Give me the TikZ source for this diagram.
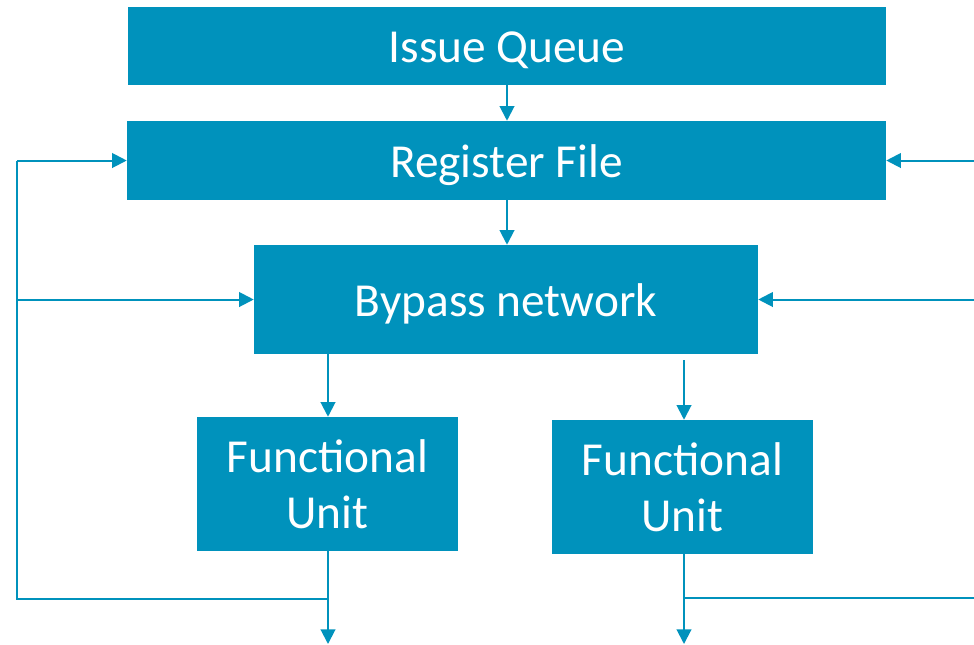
\documentclass[tikz,border=0pt]{standalone}
\usepackage{fontspec}
\setmainfont{Carlito}
\usetikzlibrary{arrows.meta}
\definecolor{boxblue}{RGB}{0,146,188}
\tikzset{
  blk/.style={fill=boxblue, draw=none, inner sep=0pt, text=white, align=center,
    font=\fontsize{35.5}{42.2}\selectfont},
  oneline/.style={text height=30pt, text depth=5pt},
  conn/.style={draw=boxblue, line width=1.5pt},
  arr/.style={conn, -{Triangle[length=11pt,width=11pt]}}
}
\begin{document}
\begin{tikzpicture}[x=0.75pt,y=-0.75pt]
\useasboundingbox (0,0) rectangle (974,644);
\node[blk, oneline, minimum width=568.5pt, minimum height=58.5pt] (iq) at (507,46) {Issue Queue};
\node[blk, oneline, minimum width=569.25pt, minimum height=59.25pt] (rf) at (506.5,160.5) {Register File};
\node[blk, oneline, minimum width=378pt, minimum height=81.75pt] (bp) at (506,299.5) {Bypass network};
\node[blk, minimum width=195.75pt, minimum height=100.5pt] (fu1) at (327.5,484) {Functional\\Unit};
\node[blk, minimum width=195.75pt, minimum height=100.5pt] (fu2) at (682.5,487) {Functional\\Unit};
% coordinates
\coordinate (l1) at (17,160.5);
\coordinate (l2) at (17,299.5);
\coordinate (l3) at (17,599);
\coordinate (j1) at (328,599);
\coordinate (o1) at (328,644);
\coordinate (j2) at (684,598);
\coordinate (o2) at (684,644);
\coordinate (r1) at (974,160.5);
\coordinate (r2) at (974,299.5);
\coordinate (r3) at (974,598);
\coordinate (b2) at (684,360);
% vertical flow
\draw[arr] (iq.south -| 507,0) -- (rf.north -| 507,0);
\draw[arr] (rf.south -| 507,0) -- (bp.north -| 507,0);
\draw[arr] (bp.south -| 328,0) -- (fu1.north -| 328,0);
\draw[arr] (b2) -- (fu2.north -| b2);
\draw[arr] (fu1.south -| 328,0) -- (o1);
\draw[arr] (fu2.south -| 684,0) -- (o2);
% left feedback
\draw[conn] (j1) -- (l3) -- (l1);
\draw[arr] (l1) -- (rf.west);
\draw[arr] (l2) -- (bp.west);
% right feedback
\draw[conn] (j2) -- (r3);
\draw[arr] (r1) -- (rf.east);
\draw[arr] (r2) -- (bp.east);
\end{tikzpicture}
\end{document}
